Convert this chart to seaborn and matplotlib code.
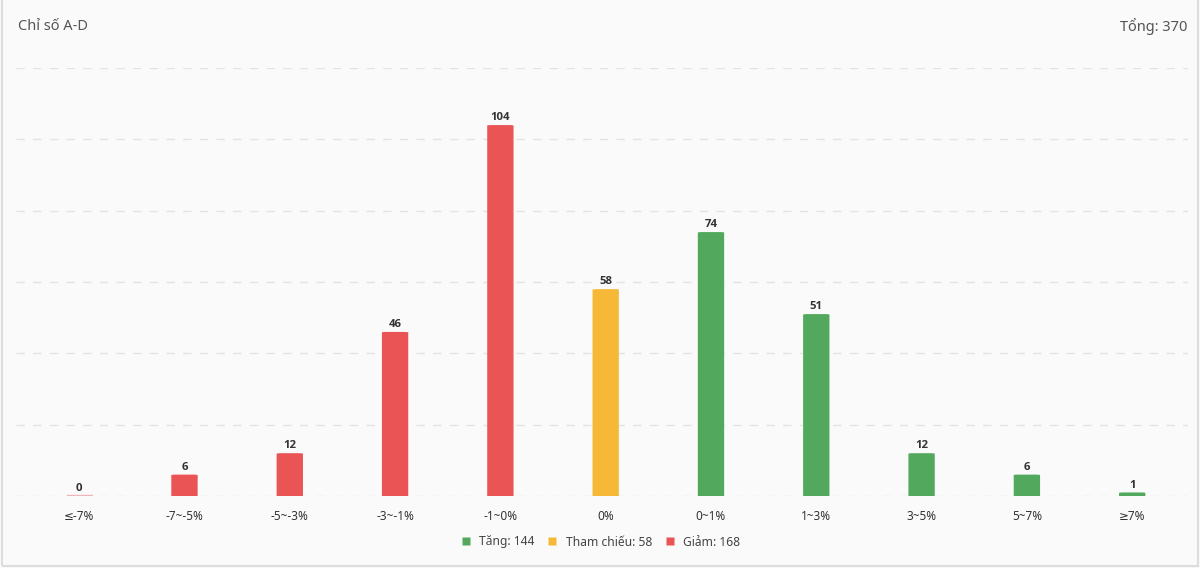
import matplotlib
matplotlib.use("Agg")
import matplotlib.pyplot as plt
import seaborn as sns
import pandas as pd
from matplotlib.patches import FancyBboxPatch, Rectangle
from matplotlib.lines import Line2D

categories = ["≤-7%", "-7~-5%", "-5~-3%", "-3~-1%", "-1~0%", "0%", "0~1%", "1~3%", "3~5%", "5~7%", "≥7%"]
values = [0, 6, 12, 46, 104, 58, 74, 51, 12, 6, 1]
groups = ["down", "down", "down", "down", "down", "ref", "up", "up", "up", "up", "up"]
legend_labels = ["Tăng: 144", "Tham chiếu: 58", "Giảm: 168"]
title = "Chỉ số A-D"
total_label = "Tổng: 370"

colors = {"up": "#52A95E", "ref": "#F5B937", "down": "#EA5455"}

sns.set_theme(style="white")
plt.rcParams["font.family"] = ["Noto Sans", "DejaVu Sans"]

df = pd.DataFrame({"cat": categories, "val": values, "grp": groups})

fig = plt.figure(figsize=(12, 5.68), dpi=100, facecolor="#FAFAFA")
ax = fig.add_axes([16/1200, 1-496/568, (1188-16)/1200, (496-68)/568])
ax.set_facecolor("#FAFAFA")

sns.barplot(data=df, x="cat", y="val", hue="grp", palette=colors, dodge=False,
            width=0.25, legend=False, ax=ax, saturation=1)

# replace bars with rounded-top versions (bottom rounding hidden below the axis)
for patch in list(ax.patches):
    x, y = patch.get_x(), patch.get_y()
    w, h = patch.get_width(), patch.get_height()
    if w <= 0:
        continue
    fc = patch.get_facecolor()
    patch.set_visible(False)
    if h <= 0:
        continue
    rr = FancyBboxPatch((x, y - 3), w, h + 3, boxstyle="round,pad=0,rounding_size=0.04",
                        mutation_aspect=3.9, facecolor=fc, edgecolor="none", zorder=3)
    ax.add_patch(rr)

# zero bar hint
ax.plot([-0.12, 0.12], [0.15, 0.15], color="#EA5455", alpha=0.4, lw=1, zorder=3)

for i, v in enumerate(values):
    ax.text(i, v + 0.5, str(v), ha="center", va="bottom", fontsize=8.2, fontweight="bold",
            color="#333333", family=["Open Sans", "DejaVu Sans"])

ax.set_xlim(-0.6, 10.53)
ax.set_ylim(0, 120)
ax.set_yticks(range(0, 121, 20))
ax.yaxis.grid(True, linestyle=(0, (6, 6)), color="#E3E3E3", linewidth=1)
ax.set_axisbelow(True)
ax.set_yticklabels([])
ax.tick_params(axis="y", length=0)
ax.tick_params(axis="x", length=0, pad=10, labelsize=8.5, labelcolor="#333333")
ax.set_xlabel("")
ax.set_ylabel("")
for s in ax.spines.values():
    s.set_visible(False)

fig.text(18/1200, 1-27/568, title, fontsize=10.5, color="#555555", ha="left", va="center")
fig.text(1187/1200, 1-27/568, total_label, fontsize=10.5, color="#555555", ha="right", va="center")

handles = [Line2D([0], [0], marker="s", linestyle="none", markersize=6, markerfacecolor=colors[k],
                  markeredgecolor="none") for k in ["up", "ref", "down"]]
fig.legend(handles, legend_labels, loc="center", bbox_to_anchor=(0.5, 1-542/568), ncol=3,
           frameon=False, fontsize=8.7, handletextpad=0.6, columnspacing=1.0, handlelength=1.0,
           labelcolor="#444444")

fig.add_artist(Rectangle((2/1200, 2/568), 1196/1200, 1, transform=fig.transFigure,
                         facecolor="none", edgecolor="#DDDDDD", linewidth=1.5))

fig.savefig("out.png", dpi=100, facecolor=fig.get_facecolor())
